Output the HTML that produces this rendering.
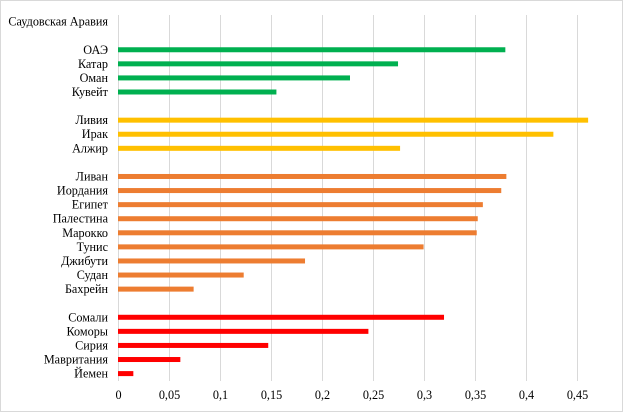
<!DOCTYPE html><html><head><meta charset="utf-8"><style>body{margin:0;background:#fff}</style></head><body>
<svg width="623" height="412" xmlns="http://www.w3.org/2000/svg" font-family="Liberation Serif, serif" font-size="12.2" fill="#000">
<rect x="0.5" y="0.5" width="622" height="411" fill="#fff" stroke="#d9d9d9"/>
<g stroke="#d9d9d9" stroke-width="1" id="g"></g>
<g id="b"></g>
<g id="t" text-anchor="end"></g>
<g id="x" text-anchor="middle"></g>
<script>
var ns="http://www.w3.org/2000/svg";
function el(p,n,a,txt){var e=document.createElementNS(ns,n);for(var k in a)e.setAttribute(k,a[k]);if(txt!=null)e.textContent=txt;document.getElementById(p).appendChild(e);}
var x0=117.5,s=1022;
for(var i=0;i<=9;i++){var x=Math.round(x0+i*0.05*s)+0.5;el('g','line',{x1:x,x2:x,y1:15,y2:381});el('x','text',{x:x,y:399},i==0?'0':(i*0.05).toFixed(2).replace(/0$/,'').replace('.',','));}
var d=[["Саудовская Аравия",0,0,""],["ОАЭ",2,.379,"#00b050"],["Катар",3,.274,"#00b050"],["Оман",4,.227,"#00b050"],["Кувейт",5,.155,"#00b050"],
["Ливия",7,.46,"#ffc000"],["Ирак",8,.426,"#ffc000"],["Алжир",9,.276,"#ffc000"],
["Ливан",11,.38,"#ed7d31"],["Иордания",12,.375,"#ed7d31"],["Египет",13,.357,"#ed7d31"],["Палестина",14,.352,"#ed7d31"],["Марокко",15,.351,"#ed7d31"],["Тунис",16,.299,"#ed7d31"],["Джибути",17,.183,"#ed7d31"],["Судан",18,.123,"#ed7d31"],["Бахрейн",19,.074,"#ed7d31"],
["Сомали",21,.319,"#ff0000"],["Коморы",22,.245,"#ff0000"],["Сирия",23,.147,"#ff0000"],["Мавритания",24,.061,"#ff0000"],["Йемен",25,.015,"#ff0000"]];
d.forEach(function(r){var y=21.6+r[1]*14.08;el('t','text',{x:108,y:y+4},r[0]);if(r[2])el('b','rect',{x:x0+0.5,y:y-2.5,width:r[2]*s,height:5,fill:r[3]});});
</script>
</svg></body></html>
